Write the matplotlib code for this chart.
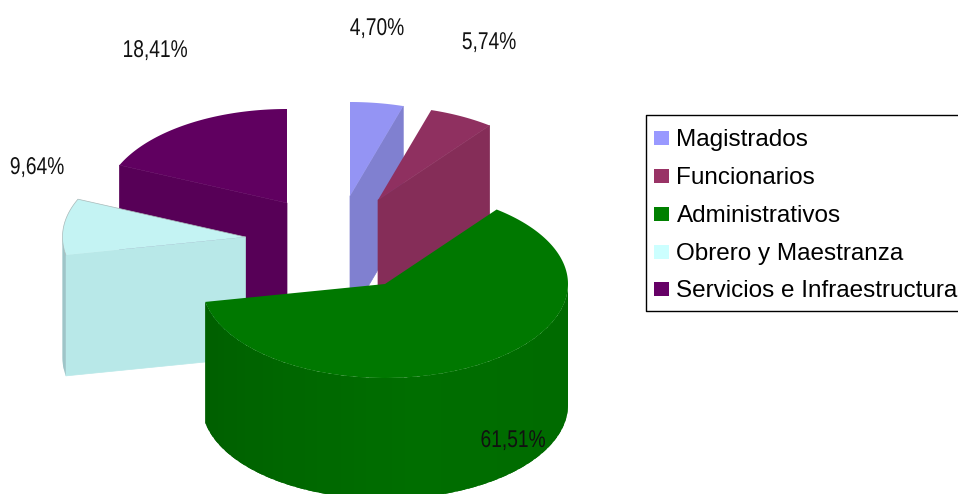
import numpy as np
import matplotlib
matplotlib.use("Agg")
import matplotlib.pyplot as plt
import matplotlib.patheffects as pe
from matplotlib.patches import Polygon, Rectangle
from matplotlib.transforms import Affine2D

categories = ["Magistrados", "Funcionarios", "Administrativos", "Obrero y Maestranza", "Servicios e Infraestructura"]
values = [4.70, 5.74, 61.51, 9.64, 18.41]
value_labels = ["4,70%", "5,74%", "61,51%", "9,64%", "18,41%"]

legend_colors = ["#9999ff", "#993366", "#008000", "#ccffff", "#660066"]
top_colors = ["#9494f4", "#8f3060", "#007800", "#c4f3f3", "#600060"]
face_colors = ["#8080d0", "#852d58", "#006e00", "#b8e8e8", "#570057"]

# where each exploded slice has its apex, in pixels
apex_x = [350, 378, 385, 245.5, 287]
apex_y = [196, 200, 284, 237, 203]
label_x = [377, 489, 513, 37, 155]
label_y = [29, 43, 441, 168, 51]
legend_y = [139.5, 177.5, 215.5, 253.5, 290.5]

RX, RY, DEPTH = 183, 94, 121


class Squeeze(pe.AbstractPathEffect):
    # the reference labels are set in a narrow face, none is installed
    def __init__(self, sx, x0):
        super().__init__()
        self.sx = sx
        self.x0 = x0

    def draw_path(self, renderer, gc, tpath, affine, rgbFace=None):
        squeeze = Affine2D().translate(-self.x0, 0).scale(self.sx, 1).translate(self.x0, 0)
        renderer.draw_path(gc, tpath, affine + squeeze, rgbFace)


def arc_points(cx, cy, start, end):
    # angles in degrees, clockwise from 12 o'clock
    t = np.radians(np.linspace(start, end, max(int(end - start), 2) + 1))
    return np.column_stack([cx + RX * np.sin(t), cy - RY * np.cos(t)])


def side_color(angle, base):
    # outer wall: darkest on the left, lightest just left of centre
    rgb = np.array(matplotlib.colors.to_rgb(base))
    if angle > 170:
        k = 1 - 0.16 * (angle - 170) / 100
    else:
        k = 1 - 0.04 * (170 - angle) / 80
    return rgb * k


def draw_slice(ax, cx, cy, start, end, top, face):
    # cut faces that look towards the viewer
    for ang, normal in ((start, start - 90), (end, end + 90)):
        if -np.cos(np.radians(normal)) > 1e-6:
            p = arc_points(cx, cy, ang, ang + 1)[0]
            ax.add_patch(Polygon([(cx, cy), p, (p[0], p[1] + DEPTH), (cx, cy + DEPTH)],
                                 closed=True, fc=face, ec=face, lw=0.5))
    # outer wall, only the part between 3 and 9 o'clock shows
    a0, a1 = max(start, 90), min(end, 270)
    if a0 < a1:
        edges = np.arange(a0, a1, 4.0).tolist() + [a1]
        for s, e in zip(edges[:-1], edges[1:]):
            # each strip runs on under the next one, so no seams show
            pts = arc_points(cx, cy, s, min(e + 3, a1))
            poly = np.vstack([pts, pts[::-1] + [0, DEPTH]])
            col = side_color((s + e) / 2, face)
            if top == top_colors[3]:
                col = "#9ec5c8"
            ax.add_patch(Polygon(poly, closed=True, fc=col, ec="none", lw=0))
    arc = arc_points(cx, cy, start, end)
    ax.add_patch(Polygon(np.vstack([[(cx, cy)], arc]), closed=True, fc=top, ec="none", lw=0))
    if top == top_colors[3]:
        ax.plot(np.r_[arc[:, 0], cx], np.r_[arc[:, 1], cy], color="#a8b8b8", lw=0.5)


def main():
    fig = plt.figure(figsize=(9.58, 4.94), dpi=100)
    ax = fig.add_axes([0, 0, 1, 1])
    ax.set_xlim(0, 958)
    ax.set_ylim(494, 0)
    ax.axis("off")

    ends = np.cumsum(values) / sum(values) * 360
    starts = np.concatenate([[0], ends[:-1]])

    # back to front
    for i in [4, 0, 1, 3, 2]:
        draw_slice(ax, apex_x[i], apex_y[i], starts[i], ends[i], top_colors[i], face_colors[i])

    for i, txt in enumerate(value_labels):
        t = ax.text(label_x[i], label_y[i], txt, ha="center", va="center", color="#111111",
                    family="Liberation Sans", fontsize=17.5)
        t.set_path_effects([Squeeze(0.79, label_x[i])])

    # legend box, runs off the right edge
    ax.plot([960, 646.5, 646.5, 960], [115, 115, 311, 311], color="black", lw=1, clip_on=False)
    for i, name in enumerate(categories):
        ax.add_patch(Rectangle((654, legend_y[i] - 8.5), 15, 14, fc=legend_colors[i], ec="none"))
        ax.text(676.5, legend_y[i], name, ha="left", va="center", color="black",
                family="Liberation Sans", fontsize=17.45)

    fig.savefig("out.png", dpi=100)


if __name__ == "__main__":
    main()
